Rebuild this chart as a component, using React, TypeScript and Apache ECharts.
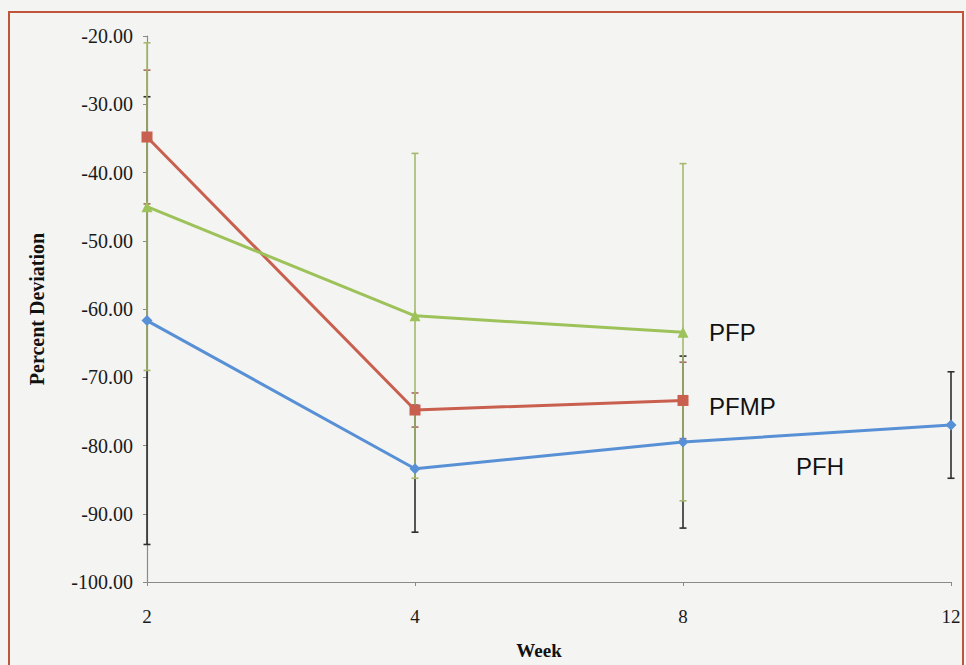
import React, { useEffect, useRef } from "react";
import * as echarts from "echarts";

const weeks = ["2", "4", "8", "12"];
const pfpValues = [-45.0, -61.0, -63.4, null];
const pfpErrors = [24.0, 23.8, 24.7, null];
const pfmpValues = [-34.8, -74.8, -73.4, null];
const pfmpErrors = [9.8, 2.5, 5.6, null];
const pfhValues = [-61.7, -83.4, -79.5, -77.0];
const pfhErrors = [32.8, 9.3, 12.6, 7.8];
const yTicks = { min: -100, max: -20, interval: 10 };

const GREEN = "#9dc25a";
const RED = "#c95f4e";
const BLUE = "#5890d6";

function errorData(values: (number | null)[], errs: (number | null)[]) {
  const out: any[] = [];
  values.forEach((v, i) => {
    if (v !== null && errs[i] !== null) out.push([i, v, errs[i]]);
  });
  return out;
}

function errorSeries(name: string, values: any[], errs: any[], color: string, z: number) {
  return {
    type: "custom",
    name,
    z,
    silent: true,
    data: errorData(values, errs),
    renderItem: (params: any, api: any) => {
      const x = api.value(0);
      const v = api.value(1);
      const e = api.value(2);
      const top = api.coord([x, v + e]);
      const bot = api.coord([x, v - e]);
      const cap = 3.5;
      const style = { stroke: color, lineWidth: 1.6 };
      return {
        type: "group",
        children: [
          { type: "line", shape: { x1: top[0], y1: top[1], x2: bot[0], y2: bot[1] }, style },
          { type: "line", shape: { x1: top[0] - cap, y1: top[1], x2: top[0] + cap, y2: top[1] }, style },
          { type: "line", shape: { x1: bot[0] - cap, y1: bot[1], x2: bot[0] + cap, y2: bot[1] }, style },
        ],
      };
    },
  };
}

function lineSeries(name: string, values: any[], color: string, symbol: string, size: number) {
  return {
    type: "line",
    name,
    z: 5,
    data: values,
    symbol,
    symbolSize: size,
    connectNulls: false,
    lineStyle: { color, width: 3 },
    itemStyle: { color },
  };
}

export default function App() {
  const ref = useRef<HTMLDivElement>(null);
  useEffect(() => {
    if (!ref.current) return;
    const chart = echarts.init(ref.current, undefined, { renderer: "svg" });
    const serif = "'Liberation Serif', 'Times New Roman', serif";
    chart.setOption({
      animation: false,
      backgroundColor: "#f4f4f2",
      grid: { left: 147, right: 15, top: 36, bottom: 74, containLabel: false },
      xAxis: {
        type: "category",
        data: weeks,
        boundaryGap: false,
        name: "Week",
        nameLocation: "middle",
        nameGap: 59,
        nameTextStyle: {
          fontFamily: serif,
          fontWeight: "bold",
          fontSize: 19,
          color: "#111",
          padding: [0, 20, 0, 0],
        },
        axisLine: { show: true, lineStyle: { color: "#8a8a8a", width: 1.2 } },
        axisTick: { show: true, length: 4, lineStyle: { color: "#8a8a8a" } },
        axisLabel: { fontFamily: serif, fontSize: 19, color: "#1a1a1a", margin: 25 },
        splitLine: { show: false },
      },
      yAxis: {
        type: "value",
        min: yTicks.min,
        max: yTicks.max,
        interval: yTicks.interval,
        name: "Percent Deviation",
        nameLocation: "middle",
        nameGap: 100,
        nameRotate: 90,
        nameTextStyle: {
          fontFamily: serif,
          fontWeight: "bold",
          fontSize: 20,
          color: "#111",
        },
        axisLine: { show: true, lineStyle: { color: "#8a8a8a", width: 1.2 } },
        axisTick: { show: true, length: 4, lineStyle: { color: "#8a8a8a" } },
        axisLabel: {
          fontFamily: serif,
          fontSize: 20,
          color: "#1a1a1a",
          margin: 14,
          formatter: (v: number) => v.toFixed(2),
        },
        splitLine: { show: false },
      },
      graphic: [
        {
          type: "rect",
          z: 100,
          shape: { x: 9, y: 12, width: 954, height: 700 },
          style: { fill: "none", stroke: "#c0553c", lineWidth: 2 },
        },
        {
          type: "text",
          z: 100,
          x: 709,
          y: 332,
          style: { text: "PFP", font: "24px 'Liberation Sans', Arial, sans-serif", fill: "#111", textVerticalAlign: "middle" },
        },
        {
          type: "text",
          z: 100,
          x: 709,
          y: 406,
          style: { text: "PFMP", font: "24px 'Liberation Sans', Arial, sans-serif", fill: "#111", textVerticalAlign: "middle" },
        },
        {
          type: "text",
          z: 100,
          x: 796,
          y: 466,
          style: { text: "PFH", font: "24px 'Liberation Sans', Arial, sans-serif", fill: "#111", textVerticalAlign: "middle" },
        },
      ],
      series: [
        errorSeries("PFMP err", pfmpValues, pfmpErrors, "#a86a5e", 1),
        errorSeries("PFH err", pfhValues, pfhErrors, "#2e2e2e", 2),
        errorSeries("PFP err", pfpValues, pfpErrors, "#a6b86e", 3),
        lineSeries("PFH", pfhValues, BLUE, "diamond", 11),
        lineSeries("PFMP", pfmpValues, RED, "rect", 11),
        lineSeries("PFP", pfpValues, GREEN, "triangle", 11),
      ],
    });
    return () => chart.dispose();
  }, []);
  return (
    <div
      ref={ref}
      style={{ position: "fixed", left: 0, top: 0, width: 966, height: 665, background: "#f4f4f2" }}
    />
  );
}
